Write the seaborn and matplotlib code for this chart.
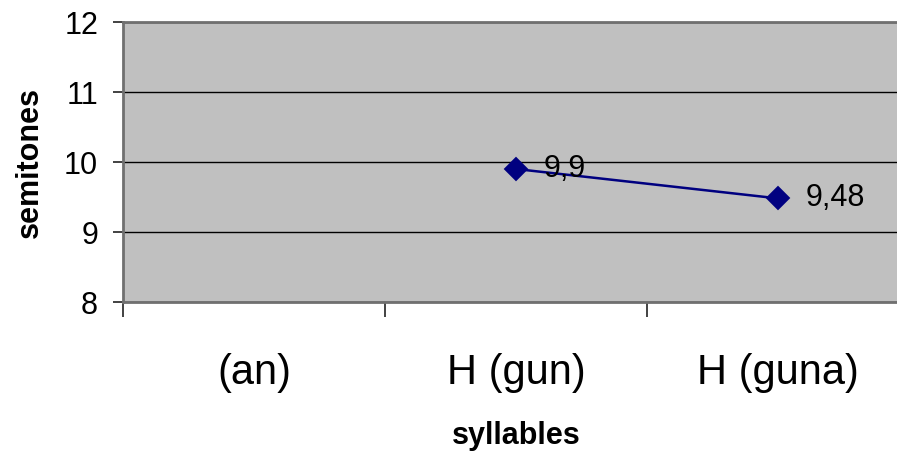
import matplotlib.pyplot as plt
import pandas as pd
import seaborn as sns

categories = ["(an)", "H (gun)", "H (guna)"]
semitones = [None, 9.9, 9.48]
point_labels = ["", "9,9", "9,48"]
y_ticks = [8, 9, 10, 11, 12]

sns.set_theme(style="white")
plt.rcParams["font.family"] = ["Liberation Sans", "DejaVu Sans"]

fig = plt.figure(figsize=(8.97, 4.51), dpi=100)
ax = fig.add_axes([123 / 897, 1 - 302 / 451, 786 / 897, 280 / 451])
ax.set_facecolor("#c0c0c0")

df = pd.DataFrame({"syllable": categories, "value": semitones, "label": point_labels})
shown = df.dropna()

sns.pointplot(
    data=shown, x="syllable", y="value", order=categories, ax=ax,
    color="#000080", markers="D", markersize=11, linewidth=1.8, errorbar=None,
)

for _, row in shown.iterrows():
    ax.annotate(row["label"], (categories.index(row["syllable"]), row["value"]),
                xytext=(28, 0), textcoords="offset pixels",
                ha="left", va="center", fontsize=22, color="black")

ax.set_ylim(8, 12)
ax.set_xlim(-0.5, 2.5)
ax.set_yticks(y_ticks)
ax.set_yticklabels([str(t) for t in y_ticks], fontsize=22, color="black")
ax.yaxis.grid(True, color="black", linewidth=1)
ax.set_axisbelow(True)

ax.set_xticks(range(len(categories)))
ax.set_xticklabels(categories, fontsize=30, color="black")
ax.set_xticks([-0.5, 0.5, 1.5, 2.5], minor=True)
ax.tick_params(axis="x", which="major", length=0, pad=37)
ax.tick_params(axis="x", which="minor", bottom=True, length=11, width=1.2,
               color="#222222", direction="out")
ax.tick_params(axis="y", length=7, width=1.2, color="#222222", direction="out",
               left=True, pad=11)

for side in ["left", "bottom", "top", "right"]:
    ax.spines[side].set_color("#707070")
    ax.spines[side].set_linewidth(2)

ax.set_xlabel("syllables", fontsize=22, fontweight="bold", color="black", labelpad=20)
ax.set_ylabel("semitones", fontsize=22, fontweight="bold", color="black", labelpad=14)

fig.savefig("out.png", dpi=100)
